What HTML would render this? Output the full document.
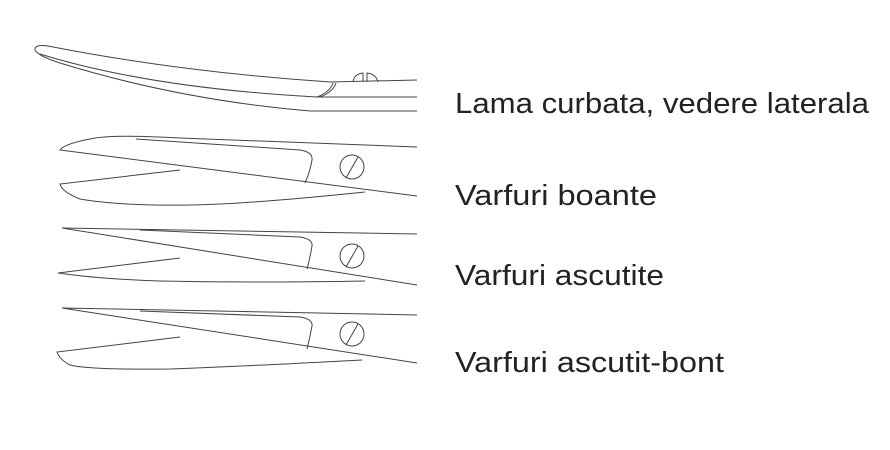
<!DOCTYPE html>
<html><head><style>
html,body{margin:0;padding:0;background:#fff;width:890px;height:450px;overflow:hidden}
svg{position:absolute;left:0;top:0}
text{font-family:"Liberation Sans",sans-serif;font-size:29px;fill:#222}
</style></head><body>
<svg width="890" height="450" viewBox="0 0 890 450">
<g fill="none" stroke="#444" stroke-width="1">
<path d="M417,80 L330,82 Q180,72 48,46 Q34,44 35,50 Q38,56 60,63 Q180,100 310,111 L417,111"/>
<path d="M40,54 Q150,88 317,97 L417,97"/>
<path d="M317,97 Q330,92 333,83 M320,97 Q333,92 336,83"/>
<path d="M353,82 Q354,74 363,73 L363,82 M367,82 L367,73 Q376,74 378,82"/>
<path d="M417,147 L180,138 Q110,134 90,139 Q64,144 60,150 L417,196"/>
<path d="M365,192 Q250,204 190,205 Q120,206 80,199 Q62,192 60,184 L180,170"/>
<path d="M136,139 L300,150 Q313,152 312,160 Q310,172 305,183"/>
<circle cx="352" cy="167" r="12"/><path d="M346,178 L358,157"/>
<path d="M417,234 L62,228 L417,285"/>
<path d="M365,281 Q250,283 160,281 Q100,279 58,273 L180,258"/>
<path d="M140,230 L300,237 Q313,239 312,246 Q310,258 307,269"/>
<circle cx="352" cy="256" r="12"/><path d="M346,267 L358,246"/>
<path d="M417,315 L62,308 L417,363"/>
<path d="M362,360 Q250,366 170,369 Q90,370 70,365 Q60,360 57,352 L180,337"/>
<path d="M140,311 L300,317 Q313,319 312,326 Q310,337 307,349"/>
<circle cx="352" cy="334" r="12"/><path d="M346,345 L358,324"/>
</g>
<text x="455" y="113" textLength="414" lengthAdjust="spacingAndGlyphs">Lama curbata, vedere laterala</text>
<text x="455" y="205" textLength="202" lengthAdjust="spacingAndGlyphs">Varfuri boante</text>
<text x="455" y="285" textLength="209" lengthAdjust="spacingAndGlyphs">Varfuri ascutite</text>
<text x="455" y="372" textLength="269" lengthAdjust="spacingAndGlyphs">Varfuri ascutit-bont</text>
</svg>
</body></html>
